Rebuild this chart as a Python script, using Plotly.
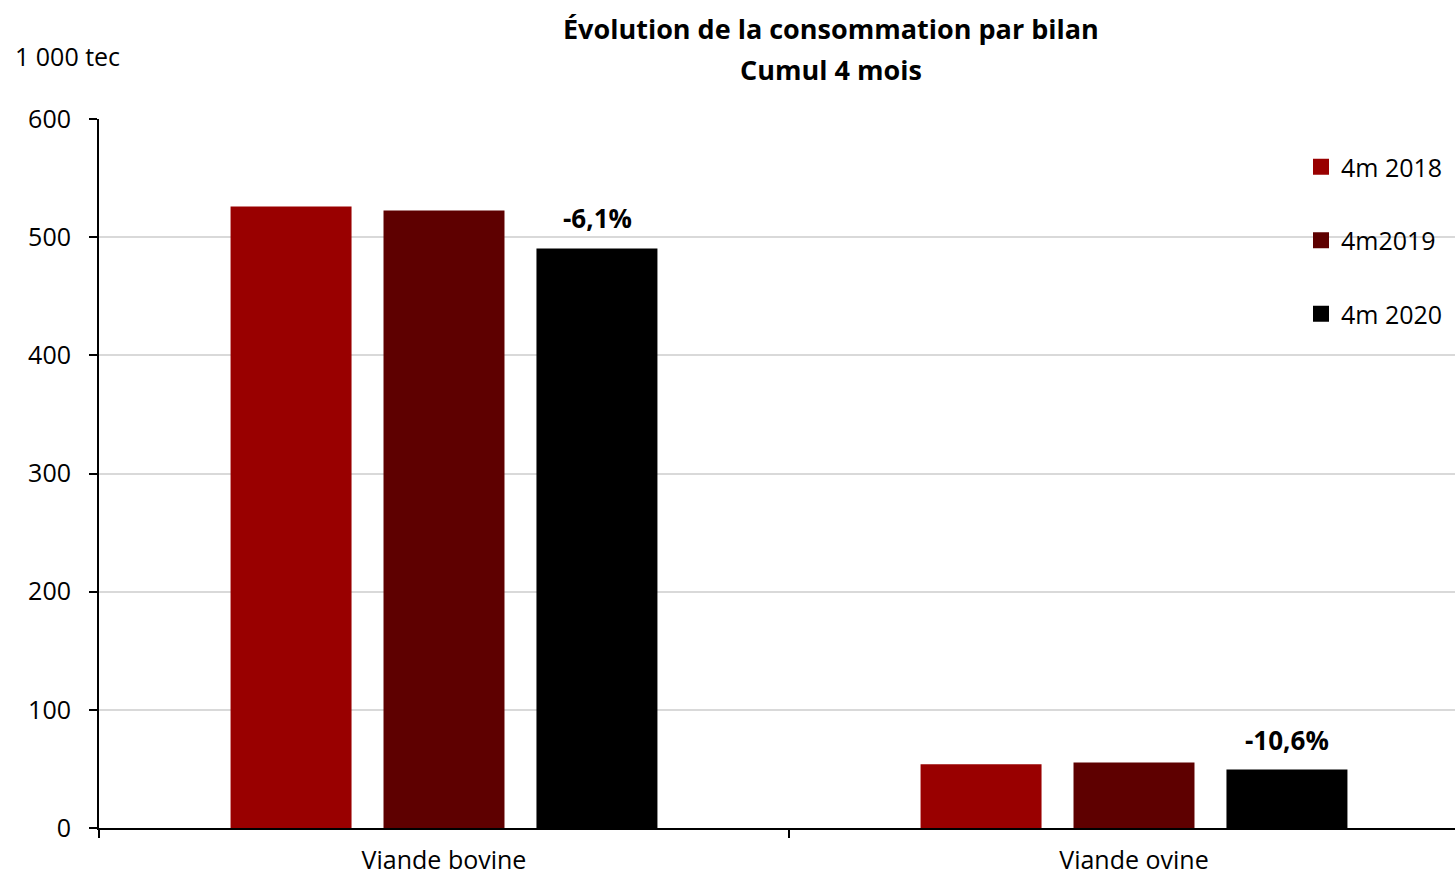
import plotly.graph_objects as go

# Consommation par bilan, cumul des 4 premiers mois (1 000 tec)
categories = ["Viande bovine", "Viande ovine"]
series_names = ["4m 2018", "4m2019", "4m 2020"]
values_2018 = [526.0, 54.0]
values_2019 = [522.6, 55.4]
values_2020 = [490.5, 49.5]
series_values = [values_2018, values_2019, values_2020]
series_colors = ["#990000", "#5e0000", "#000000"]
y_ticks = [0, 100, 200, 300, 400, 500, 600]
title_lines = ["Évolution de la consommation par bilan", "Cumul 4 mois"]

FONT = "Open Sans"
W, H = 1455, 878
M_L, M_R, M_T, M_B = 99, 0, 119, 50
plot_w = W - M_L - M_R
plot_h = H - M_T - M_B
cat_px = 690  # width of one category band in pixels


def px_x(px):
    return (px - M_L) / plot_w


def px_y(py):
    return 1 - (py - M_T) / plot_h


fig = go.Figure()
for name, vals, col in zip(series_names, series_values, series_colors):
    fig.add_trace(go.Bar(
        x=categories, y=vals, name=name, marker_color=col,
        marker_line_width=0, showlegend=False,
    ))
    # square legend swatch
    fig.add_trace(go.Scatter(
        x=[None], y=[None], mode="markers", name=name,
        marker=dict(symbol="square", size=16, color=col),
        legendgroup=name, showlegend=True,
    ))

# evolution 2020 vs 2019 written above the 2020 bars
for c, v19, v20 in zip(categories, values_2019, values_2020):
    pct = (v20 / v19 - 1) * 100
    label = f"{pct:.1f}%".replace(".", ",")
    fig.add_annotation(
        x=c, y=v20, xref="x", yref="y", text=f"<b>{label}</b>",
        showarrow=False, xshift=153, yshift=30,
        font=dict(family=FONT, size=26, color="black"),
    )

# unit label
fig.add_annotation(
    x=px_x(13), y=px_y(56), xref="paper", yref="paper", text="1 000 tec",
    showarrow=False, xanchor="left", yanchor="middle",
    font=dict(family=FONT, size=25, color="black"),
)

# title, one annotation per line
for text, py in zip(title_lines, [29, 69]):
    fig.add_annotation(
        x=px_x(831), y=px_y(py), xref="paper", yref="paper", showarrow=False,
        text=f"<b>{text}</b>", xanchor="center", yanchor="middle",
        font=dict(family=FONT, size=27, color="black"),
    )

# white backing behind the legend, hiding the gridline there
fig.add_shape(
    type="rect", xref="paper", yref="paper", layer="between",
    x0=px_x(1273), x1=1.0, y0=px_y(345), y1=px_y(130),
    fillcolor="white", line_width=0,
)

x_max = -0.5 + plot_w / cat_px

fig.update_layout(
    width=W, height=H,
    margin=dict(l=M_L, r=M_R, t=M_T, b=M_B, pad=0, autoexpand=False),
    paper_bgcolor="white", plot_bgcolor="white",
    font=dict(family=FONT, size=25, color="black"),
    barmode="group", bargap=0.335, bargroupgap=0.209,
    legend=dict(
        x=px_x(1301), y=px_y(144),
        xanchor="left", yanchor="top",
        bgcolor="rgba(0,0,0,0)", borderwidth=0,
        font=dict(family=FONT, size=25, color="black"),
        tracegroupgap=38, itemwidth=30,
    ),
    xaxis=dict(
        range=[-0.5, x_max], showgrid=False, showline=True, automargin=False,
        linecolor="black", linewidth=2, ticks="outside", tickson="boundaries",
        ticklen=8, tickwidth=1.5, tickcolor="black",
        tickfont=dict(family=FONT, size=25, color="black"),
        ticklabelstandoff=9,
    ),
    yaxis=dict(
        range=[0, 600], tickvals=y_ticks, showgrid=True, gridcolor="#d9d9d9",
        gridwidth=1.5, showline=True, linecolor="black", linewidth=2,
        automargin=False,
        ticks="outside", ticklen=8, tickwidth=1.5, tickcolor="black",
        tickfont=dict(family=FONT, size=25, color="black"),
        ticklabelstandoff=13, zeroline=False,
    ),
)

fig.write_html("out.html")
